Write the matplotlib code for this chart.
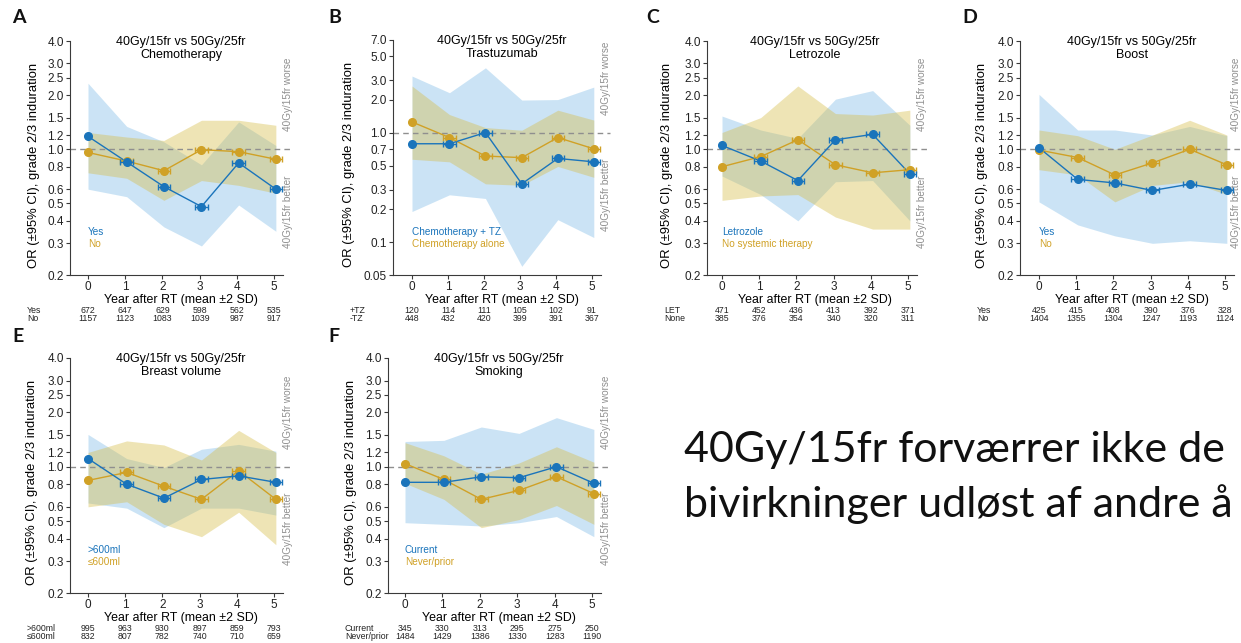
import matplotlib
matplotlib.use('Agg')
import matplotlib.pyplot as plt
from matplotlib.ticker import NullLocator, FixedLocator, FixedFormatter

plt.rcParams['font.family'] = ['Liberation Sans', 'DejaVu Sans']

W, H = 1241, 643
fig = plt.figure(figsize=(W / 100, H / 100), dpi=100)

# ---------------- data ----------------
years = [0, 1, 2, 3, 4, 5]
time_mean = [0.0, 1.04, 2.04, 3.05, 4.05, 5.05]
time_2sd = [0.0, 0.17, 0.17, 0.17, 0.17, 0.17]

title_top = "40Gy/15fr vs 50Gy/25fr"
ylabel = "OR (\u00b195% CI), grade 2/3 induration"
xlabel = "Year after RT (mean \u00b12 SD)"

yticks_std = [0.2, 0.3, 0.4, 0.5, 0.6, 0.8, 1.0, 1.2, 1.5, 2.0, 2.5, 3.0, 4.0]
yticks_b = [0.05, 0.1, 0.2, 0.3, 0.5, 0.7, 1.0, 2.0, 3.0, 5.0, 7.0]

# A: Chemotherapy
A_blue_or = [1.18, 0.85, 0.62, 0.48, 0.84, 0.60]
A_blue_lo = [0.60, 0.545, 0.37, 0.29, 0.49, 0.35]
A_blue_hi = [2.33, 1.34, 1.10, 0.82, 1.42, 1.05]
A_gold_or = [0.96, 0.86, 0.76, 0.995, 0.97, 0.88]
A_gold_lo = [0.74, 0.69, 0.52, 0.67, 0.63, 0.57]
A_gold_hi = [1.24, 1.17, 1.12, 1.45, 1.45, 1.36]
A_n_blue = [672, 647, 629, 598, 562, 535]
A_n_gold = [1157, 1123, 1083, 1039, 987, 917]

# B: Trastuzumab
B_blue_or = [0.79, 0.79, 1.0, 0.34, 0.58, 0.54]
B_blue_lo = [0.19, 0.27, 0.25, 0.06, 0.16, 0.11]
B_blue_hi = [3.28, 2.31, 3.9, 1.98, 2.0, 2.6]
B_gold_or = [1.25, 0.90, 0.61, 0.59, 0.90, 0.71]
B_gold_lo = [0.57, 0.54, 0.34, 0.33, 0.49, 0.39]
B_gold_hi = [2.66, 1.46, 1.11, 1.05, 1.6, 1.3]
B_n_blue = [120, 114, 111, 105, 102, 91]
B_n_gold = [448, 432, 420, 399, 391, 367]

# C: Letrozole
C_blue_or = [1.05, 0.86, 0.67, 1.13, 1.21, 0.73]
C_blue_lo = [0.71, 0.56, 0.40, 0.66, 0.67, 0.40]
C_blue_hi = [1.53, 1.28, 1.15, 1.90, 2.12, 1.36]
C_gold_or = [0.80, 0.91, 1.13, 0.82, 0.74, 0.77]
C_gold_lo = [0.52, 0.55, 0.56, 0.42, 0.36, 0.36]
C_gold_hi = [1.24, 1.5, 2.25, 1.58, 1.55, 1.65]
C_n_blue = [471, 452, 436, 413, 392, 371]
C_n_gold = [385, 376, 354, 340, 320, 311]

# D: Boost
D_blue_or = [1.02, 0.68, 0.65, 0.59, 0.64, 0.59]
D_blue_lo = [0.51, 0.38, 0.33, 0.30, 0.31, 0.30]
D_blue_hi = [2.02, 1.28, 1.28, 1.2, 1.34, 1.19]
D_gold_or = [0.99, 0.90, 0.72, 0.84, 1.0, 0.82]
D_gold_lo = [0.77, 0.72, 0.51, 0.63, 0.66, 0.56]
D_gold_hi = [1.28, 1.19, 1.0, 1.2, 1.45, 1.2]
D_n_blue = [425, 415, 408, 390, 376, 328]
D_n_gold = [1404, 1355, 1304, 1247, 1193, 1124]

# E: Breast volume
E_blue_or = [1.11, 0.80, 0.67, 0.85, 0.89, 0.82]
E_blue_lo = [0.63, 0.59, 0.46, 0.59, 0.59, 0.54]
E_blue_hi = [1.51, 1.11, 0.99, 1.25, 1.33, 1.22]
E_gold_or = [0.84, 0.93, 0.78, 0.66, 0.95, 0.66]
E_gold_lo = [0.60, 0.64, 0.48, 0.41, 0.56, 0.37]
E_gold_hi = [1.20, 1.39, 1.32, 1.09, 1.59, 1.20]
E_n_blue = [995, 963, 930, 897, 859, 793]
E_n_gold = [832, 807, 782, 740, 710, 659]

# F: Smoking
F_blue_or = [0.82, 0.82, 0.88, 0.87, 1.0, 0.81]
F_blue_lo = [0.49, 0.48, 0.47, 0.49, 0.53, 0.41]
F_blue_hi = [1.38, 1.40, 1.66, 1.53, 1.87, 1.61]
F_gold_or = [1.04, 0.85, 0.66, 0.74, 0.88, 0.71]
F_gold_lo = [0.81, 0.66, 0.46, 0.51, 0.61, 0.48]
F_gold_hi = [1.36, 1.15, 0.91, 1.05, 1.29, 1.06]
F_n_blue = [345, 330, 313, 295, 275, 250]
F_n_gold = [1484, 1429, 1386, 1330, 1283, 1190]

panel_letters = ["A", "B", "C", "D", "E", "F"]
subtitles = ["Chemotherapy", "Trastuzumab", "Letrozole", "Boost", "Breast volume", "Smoking"]
legend_blue = ["Yes", "Chemotherapy + TZ", "Letrozole", "Yes", ">600ml", "Current"]
legend_gold = ["No", "Chemotherapy alone", "No systemic therapy", "No", "\u2264600ml", "Never/prior"]
row_blue = ["Yes", "+TZ", "LET", "Yes", ">600ml", "Current"]
row_gold = ["No", "-TZ", "None", "No", "\u2264600ml", "Never/prior"]

big_line1 = "40Gy/15fr forv\u00e6rrer ikke de"
big_line2 = "bivirkninger udl\u00f8st af andre \u00e5"

# ---------------- style ----------------
BLUE = '#1a74bb'
GOLD = '#d0a126'
BLUE_FILL = '#8cc3ea'
GOLD_FILL = '#d6bd48'
SPINE = '#3a3a3a'
GREY = '#8f8f8f'

# layout: (axis-left px, x=0 px, px per year, top px, bottom px, letter x, letter baseline,
#          ylabel offset px, right-note x in data)
layouts = [
    (70, 88, 37.2, 41, 275, 12, 23, 36, 5.38),
    (393, 412, 36.0, 40, 275, 328, 23, 44, 5.38),
    (707, 722, 37.2, 41, 275, 646, 23, 40, 5.38),
    (1020, 1039, 37.2, 41, 275, 962, 23, 38, 5.29),
    (70, 88, 37.2, 358, 593, 12, 342, 38, 5.38),
    (388, 405, 37.4, 358, 593, 328, 342, 37, 5.38),
]

data = [
    (A_blue_or, A_blue_lo, A_blue_hi, A_gold_or, A_gold_lo, A_gold_hi, A_n_blue, A_n_gold),
    (B_blue_or, B_blue_lo, B_blue_hi, B_gold_or, B_gold_lo, B_gold_hi, B_n_blue, B_n_gold),
    (C_blue_or, C_blue_lo, C_blue_hi, C_gold_or, C_gold_lo, C_gold_hi, C_n_blue, C_n_gold),
    (D_blue_or, D_blue_lo, D_blue_hi, D_gold_or, D_gold_lo, D_gold_hi, D_n_blue, D_n_gold),
    (E_blue_or, E_blue_lo, E_blue_hi, E_gold_or, E_gold_lo, E_gold_hi, E_n_blue, E_n_gold),
    (F_blue_or, F_blue_lo, F_blue_hi, F_gold_or, F_gold_lo, F_gold_hi, F_n_blue, F_n_gold),
]

XR = 5.25
for i in range(6):
    L, x0, s, ytop, ybot, lx, lyb, yoff, xnote = layouts[i]
    bor, blo, bhi, gor, glo, ghi, nb, ng = data[i]
    xl = (L - x0) / s
    width = (XR - xl) * s
    ax = fig.add_axes([L / W, 1 - ybot / H, width / W, (ybot - ytop) / H])
    ax.set_xlim(xl, XR)
    ax.set_yscale('log')
    ticks = yticks_b if i == 1 else yticks_std
    ax.set_ylim(ticks[0], ticks[-1])
    ax.yaxis.set_major_locator(FixedLocator(ticks))
    ax.yaxis.set_major_formatter(FixedFormatter(
        ['0.05' if t < 0.1 else f'{t:.1f}' for t in ticks]))
    ax.yaxis.set_minor_locator(NullLocator())
    ax.set_xticks(years)
    ax.set_xticklabels([str(y) for y in years])
    for sp in ['top', 'right']:
        ax.spines[sp].set_visible(False)
    for sp in ['left', 'bottom']:
        ax.spines[sp].set_color(SPINE)
        ax.spines[sp].set_linewidth(0.8)
    ax.tick_params(axis='both', colors=SPINE, labelcolor='#222222', labelsize=8.5,
                   length=3, width=0.8, pad=1.5)
    ax.patch.set_alpha(0)

    # CI bands
    ax.fill_between(time_mean, blo, bhi, color=BLUE_FILL, alpha=0.45, lw=0, zorder=1)
    ax.fill_between(time_mean, glo, ghi, color=GOLD_FILL, alpha=0.40, lw=0, zorder=1.1)

    # reference line
    ax.plot([xl, 5.5], [1.0, 1.0], color=GREY, lw=1.0, dashes=(4, 3), clip_on=False, zorder=2)

    # series
    for orv, col in ((gor, GOLD), (bor, BLUE)):
        ax.plot(time_mean, orv, '-', color=col, lw=1.0, zorder=3, clip_on=False)
        ax.errorbar(time_mean, orv, xerr=time_2sd, fmt='o', ms=5.5, color=col,
                    ecolor=col, elinewidth=1.0, capsize=2.5, capthick=1.0,
                    zorder=4, clip_on=False)

    # titles
    xt = ax.get_xaxis_transform()
    ax.text(2.5, 0.995, title_top, transform=xt, ha='center', va='center', fontsize=9)
    ax.text(2.5, 0.942, subtitles[i], transform=xt, ha='center', va='center', fontsize=9)

    # right annotations
    ax.annotate("40Gy/15fr worse", xy=(xnote, 1.0), xytext=(0, 18), textcoords='offset pixels',
                rotation=90, ha='center', va='bottom', fontsize=7.2, color=GREY,
                annotation_clip=False)
    ax.annotate("40Gy/15fr better", xy=(xnote, 1.0), xytext=(0, -26), textcoords='offset pixels',
                rotation=90, ha='center', va='top', fontsize=7.2, color=GREY,
                annotation_clip=False)

    # legend texts
    ax.text(0.0, 0.185, legend_blue[i], transform=xt, ha='left', va='center',
            fontsize=7.2, color=BLUE)
    ax.text(0.0, 0.133, legend_gold[i], transform=xt, ha='left', va='center',
            fontsize=7.2, color=GOLD)

    # axis labels
    ax.text(2.5, -0.107, xlabel, transform=xt, ha='center', va='center', fontsize=8.9)
    ax.text(-yoff / width, 0.47, ylabel, transform=ax.transAxes, rotation=90,
            ha='center', va='center', fontsize=9.4)

    # numbers at risk
    lab_x = -43 / width
    ax.text(lab_x, -0.15, row_blue[i], transform=ax.transAxes, ha='left', va='center',
            fontsize=6.3, color='#222222')
    ax.text(lab_x, -0.184, row_gold[i], transform=ax.transAxes, ha='left', va='center',
            fontsize=6.3, color='#222222')
    for k in range(6):
        ax.text(years[k], -0.15, str(nb[k]), transform=xt, ha='center', va='center',
                fontsize=6.3, color='#222222')
        ax.text(years[k], -0.184, str(ng[k]), transform=xt, ha='center', va='center',
                fontsize=6.3, color='#222222')

    # panel letter
    fig.text(lx / W, 1 - lyb / H, panel_letters[i], fontsize=14, fontweight='bold',
             family=['Lato', 'DejaVu Sans'], ha='left', va='baseline', color='#111111')

# big slide text
t1 = fig.text(684 / W, 1 - 462 / H, big_line1, fontsize=28, family=['Lato', 'DejaVu Sans'],
              ha='left', va='baseline', color='#111111')
fig.canvas.draw()
bb = t1.get_window_extent()
fs = 28 * 542.0 / bb.width
t1.set_fontsize(fs)
fig.text(684 / W, 1 - 517 / H, big_line2, fontsize=fs, family=['Lato', 'DejaVu Sans'],
         ha='left', va='baseline', color='#111111')

fig.savefig('out.png', dpi=100, facecolor='white')
